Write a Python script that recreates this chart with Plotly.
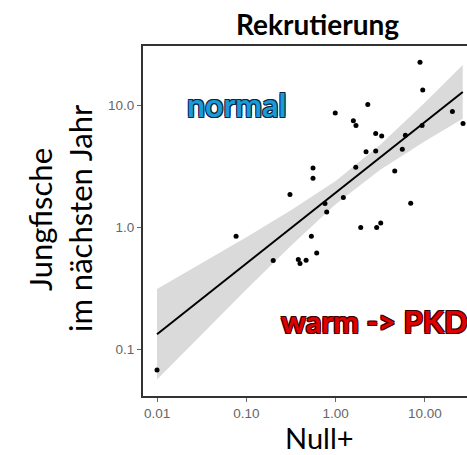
import plotly.graph_objects as go

# Scatter data
null_plus = [8.81, 9.45, 2.29, 0.99, 20.3, 26.7, 1.58, 1.69, 9.29, 2.81, 3.28, 6.04,
             2.19, 2.81, 5.58, 0.558, 0.558, 1.68, 4.59, 0.308, 1.22, 0.76, 0.794,
             6.93, 1.91, 2.88, 3.20, 0.535, 0.614, 0.382, 0.399, 0.467, 0.0768,
             0.200, 0.01]
jungfische = [22.4, 13.3, 10.1, 8.6, 8.88, 7.08, 7.44, 6.82, 6.82, 5.86, 5.57, 5.65,
              4.14, 4.20, 4.34, 3.05, 2.52, 3.10, 2.88, 1.85, 1.75, 1.56, 1.33,
              1.57, 0.994, 0.994, 1.08, 0.843, 0.615, 0.543, 0.503, 0.537, 0.843,
              0.533, 0.0676]

# Fit line and confidence band
fit_x = [0.01, 0.0316, 0.1, 0.316, 1.0, 3.16, 10.0, 26.5]
fit_y = [0.1327, 0.259, 0.505, 0.984, 1.919, 3.741, 7.295, 12.82]
ci_upper = [0.311, 0.506, 0.828, 1.374, 2.388, 4.742, 10.52, 21.28]
ci_lower = [0.0566, 0.132, 0.308, 0.705, 1.542, 2.951, 5.058, 7.727]

x_tickvals = [0.01, 0.1, 1, 10]
x_ticktext = ["0.01", "0.10", "1.00", "10.00"]
y_tickvals = [0.1, 1, 10]
y_ticktext = ["0.1", "1.0", "10.0"]

fig = go.Figure()
fig.add_trace(go.Scatter(x=fit_x + fit_x[::-1], y=ci_upper + ci_lower[::-1],
                         fill="toself", fillcolor="rgba(205,205,205,0.75)",
                         line=dict(width=0), mode="lines", hoverinfo="skip"))
fig.add_trace(go.Scatter(x=fit_x, y=fit_y, mode="lines",
                         line=dict(color="black", width=2)))
fig.add_trace(go.Scatter(x=null_plus, y=jungfische, mode="markers",
                         marker=dict(color="black", size=5)))

tick_font = dict(family="Liberation Sans, Arial", size=13.5, color="#666666")
fig.update_xaxes(type="log", range=[-2.157, 1.471], tickvals=x_tickvals,
                 ticktext=x_ticktext, showgrid=False, zeroline=False,
                 showline=True, mirror=True, linecolor="#333333", linewidth=2,
                 ticks="outside", ticklen=4, tickcolor="#666666", tickfont=tick_font)
fig.update_yaxes(type="log", range=[-1.383, 1.484], tickvals=y_tickvals,
                 ticktext=y_ticktext, showgrid=False, zeroline=False,
                 showline=True, mirror=False, linecolor="#333333", linewidth=2,
                 ticks="outside", ticklen=4, tickcolor="#666666", tickfont=tick_font)

outline_dark = ("-1px -1px 0 #0b2540, 1px -1px 0 #0b2540, -1px 1px 0 #0b2540, "
                "1px 1px 0 #0b2540, 0 1px 0 #0b2540, 0 -1px 0 #0b2540")
outline_red = ("-1px -1px 0 #3a0000, 1px -1px 0 #3a0000, -1px 1px 0 #3a0000, "
               "1px 1px 0 #3a0000, 0 1px 0 #3a0000, 0 -1px 0 #3a0000")

fig.update_layout(
    width=467, height=455, showlegend=False,
    margin=dict(l=143, r=0, t=46, b=59),
    paper_bgcolor="white", plot_bgcolor="white",
)
PW, PH = 324, 350
fig.add_annotation(text="<b>Rekrutierung</b>", xref="paper", yref="paper",
                   x=(317 - 143) / PW, y=1 + (46 - 24) / PH, showarrow=False,
                   xanchor="center", yanchor="middle",
                   font=dict(family="Lato", size=28, color="black"))
fig.add_annotation(text="Null+", xref="paper", yref="paper",
                   x=(319 - 143) / PW, y=-(437 - 396) / PH, showarrow=False,
                   xanchor="center", yanchor="middle",
                   font=dict(family="Lato", size=29, color="black"))
fig.add_annotation(text="Jungfische", xref="paper", yref="paper",
                   x=-(143 - 40) / PW, y=1 - (219 - 46) / PH, showarrow=False,
                   textangle=-90, xanchor="center", yanchor="middle",
                   font=dict(family="Lato", size=31, color="black"))
fig.add_annotation(text="im nächsten Jahr", xref="paper", yref="paper",
                   x=-(143 - 80) / PW, y=1 - (218 - 46) / PH, showarrow=False,
                   textangle=-90, xanchor="center", yanchor="middle",
                   font=dict(family="Lato", size=31, color="black"))
fig.add_annotation(text="<b>normal</b>", xref="paper", yref="paper",
                   x=(236 - 143) / PW, y=1 - (104 - 46) / PH, showarrow=False,
                   xanchor="center", yanchor="middle",
                   font=dict(family="Lato", size=32, color="#1a9ad6",
                             shadow=outline_dark))
fig.add_annotation(text="<b>warm -> PKD</b>", xref="paper", yref="paper",
                   x=(374 - 143) / PW, y=1 - (321 - 46) / PH, showarrow=False,
                   xanchor="center", yanchor="middle",
                   font=dict(family="Lato", size=31, color="#e00000",
                             shadow=outline_red))

fig.write_html("out.html")
